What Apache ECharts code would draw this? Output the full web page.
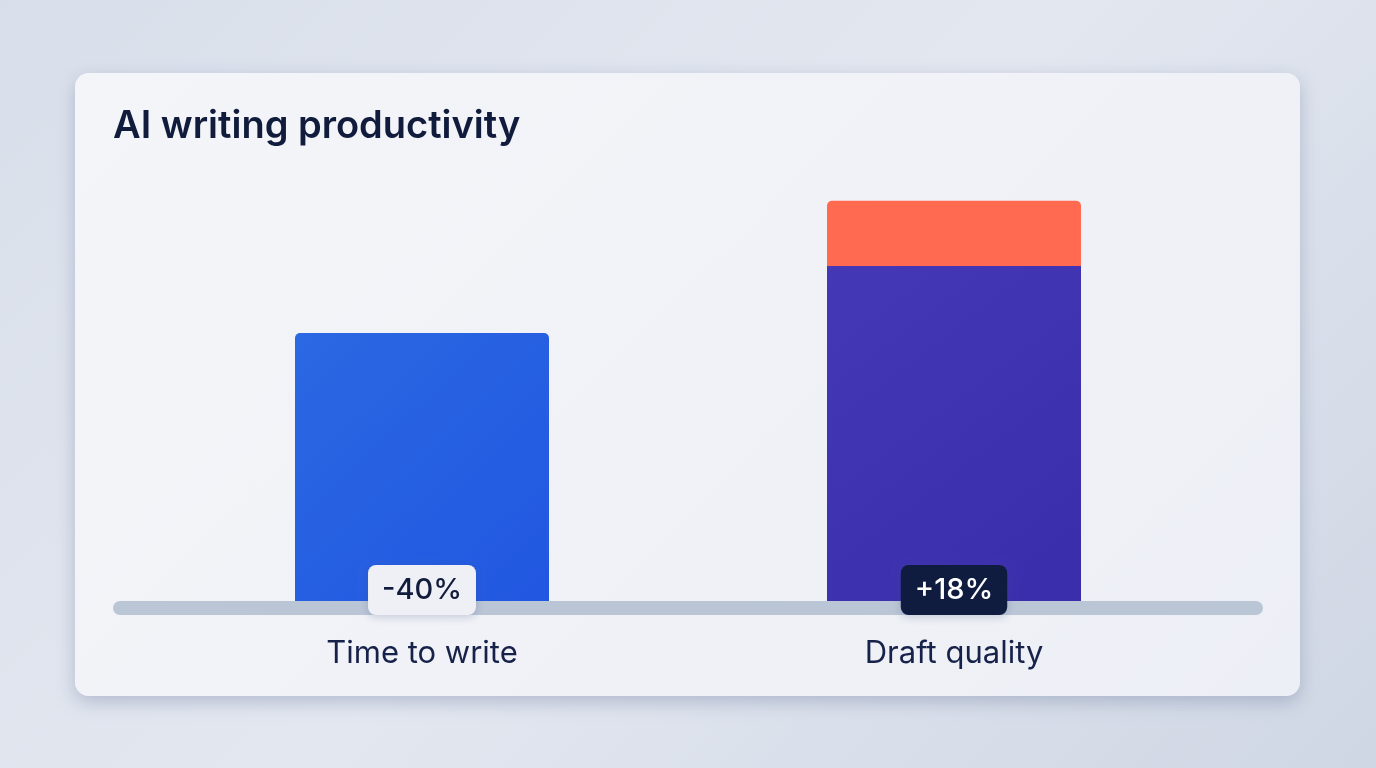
<!DOCTYPE html>
<html>
<head>
<meta charset="utf-8">
<script src="https://cdn.jsdelivr.net/npm/echarts@6/dist/echarts.min.js"></script>
<style>
  html, body { margin: 0; padding: 0; }
  body {
    width: 1376px; height: 768px; overflow: hidden;
    background: linear-gradient(135deg, #d9dfea 0%, #e3e7f0 50%, #cfd7e4 100%);
    position: relative;
    font-family: Inter, "Noto Sans", sans-serif;
  }
  #card {
    position: absolute; left: 75px; top: 73px; width: 1225px; height: 623px;
    border-radius: 14px;
    background: linear-gradient(135deg, #f4f5f9 0%, #eceff5 100%);
    box-shadow: 0 6px 18px rgba(110, 125, 160, 0.4);
  }
  #chart { position: absolute; left: 0; top: 0; width: 1376px; height: 768px; }
</style>
</head>
<body>
<div id="card"></div>
<div id="chart"></div>
<script>
// 数据
var categories = ['Time to write', 'Draft quality'];
var baseValues = [80, 100];
var gainValues = [0, 19.5];
var badgeLabels = ['-40%', '+18%'];

var chart = echarts.init(document.getElementById('chart'));

var option = {
  backgroundColor: 'transparent',
  title: {
    text: 'AI writing productivity',
    left: 113,
    top: 108,
    padding: 0,
    textStyle: { fontFamily: 'Inter', fontSize: 38, fontWeight: 600, color: '#111c3d' }
  },
  grid: { left: 156, right: 156, top: 199, bottom: 167 },
  graphic: [{
    type: 'rect',
    z: 0,
    shape: { x: 113, y: 601, width: 1150, height: 14, r: 7 },
    style: { fill: '#bac5d6' }
  }],
  xAxis: {
    type: 'category',
    data: categories,
    axisLine: { show: false },
    axisTick: { show: false },
    axisLabel: {
      margin: 37,
      fontFamily: 'Inter',
      fontSize: 31,
      color: '#17224a'
    }
  },
  yAxis: {
    type: 'value',
    min: 0,
    max: 120,
    show: false,
    splitLine: { show: false }
  },
  series: [{
    type: 'bar',
    stack: 'total',
    barWidth: 254,
    z: 3,
    data: baseValues.map(function (v, i) {
      return {
        value: v,
        itemStyle: {
          borderRadius: i === 0 ? [5, 5, 0, 0] : 0,
          color: i === 0
            ? new echarts.graphic.LinearGradient(0, 0, 1, 1, [
                { offset: 0, color: '#2b68e2' }, { offset: 1, color: '#2157e1' }])
            : new echarts.graphic.LinearGradient(0, 0, 1, 1, [
                { offset: 0, color: '#4438b6' }, { offset: 1, color: '#3a2dac' }])
        },
        label: i === 0
          ? { backgroundColor: '#eef0f6', color: '#111c3d' }
          : { backgroundColor: '#0f1c3f', color: '#ffffff' }
      };
    }),
    label: {
      show: true,
      position: 'insideBottom',
      distance: 0,
      offset: [0, 14],
      formatter: function (p) { return badgeLabels[p.dataIndex]; },
      fontFamily: 'Inter',
      fontSize: 29,
      fontWeight: 500,
      lineHeight: 34,
      padding: [8, 14],
      borderRadius: 8,
      shadowBlur: 8,
      shadowOffsetY: 2,
      shadowColor: 'rgba(60, 80, 120, 0.25)'
    }
  }, {
    type: 'bar',
    stack: 'total',
    barWidth: 254,
    z: 3,
    data: gainValues,
    itemStyle: { color: '#ff6a50', borderRadius: [5, 5, 0, 0] }
  }]
};

chart.setOption(option);
</script>
</body>
</html>
